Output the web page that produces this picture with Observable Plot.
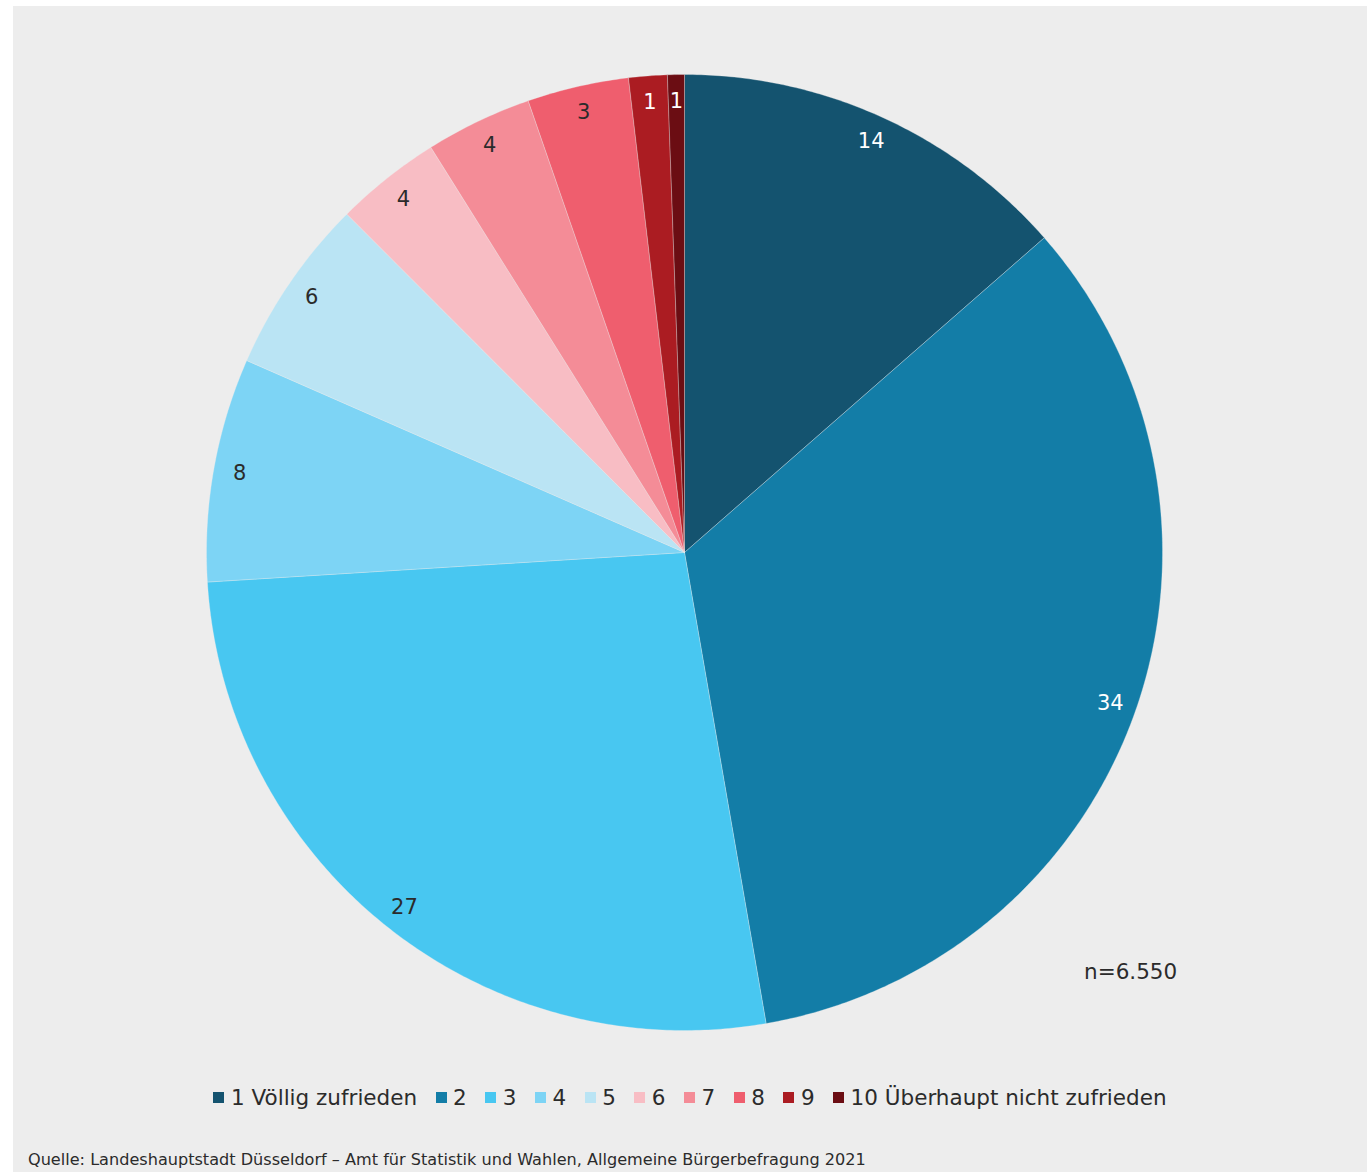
<!DOCTYPE html>
<html>
<head>
<meta charset="utf-8">
<script src="https://cdn.jsdelivr.net/npm/d3@7"></script>
<script src="https://cdn.jsdelivr.net/npm/@observablehq/plot@0.6"></script>
<style>
  html, body { margin: 0; padding: 0; background: #fff; }
  body { width: 1367px; height: 1172px; position: relative; overflow: hidden; font-family: "DejaVu Sans", Verdana, sans-serif; }
  #panel { position: absolute; left: 13px; top: 6px; width: 1354px; height: 1166px; background: #ededed; }
  #chart { position: absolute; left: 0; top: 0; }
  #n { position: absolute; left: 1071px; top: 953px; font-size: 21.5px; color: #2b2b2b; }
  #legend { position: absolute; left: 0; width: 1354px; top: 1079px; display: flex; justify-content: center; align-items: center; font-size: 21.5px; color: #2b2b2b; }
  .item { display: flex; align-items: center; margin-right: 18.5px; }
  .item:last-child { margin-right: 0; }
  .sw { width: 11px; height: 11px; margin-right: 6.5px; }
  #caption { position: absolute; left: 15px; top: 1144px; font-size: 16.1px; color: #2b2b2b; }
</style>
</head>
<body>
<div id="panel">
  <div id="chart"></div>
  <div id="n">n=6.550</div>
  <div id="legend"></div>
  <div id="caption">Quelle: Landeshauptstadt Düsseldorf – Amt für Statistik und Wahlen, Allgemeine Bürgerbefragung 2021</div>
</div>
<script>
const categories = ["1 Völlig zufrieden", "2", "3", "4", "5", "6", "7", "8", "9", "10 Überhaupt nicht zufrieden"];
const shares = [13.56, 33.7, 26.74, 7.56, 5.94, 3.58, 3.6, 3.43, 1.3, 0.57];
const labels = ["14", "34", "27", "8", "6", "4", "4", "3", "1", "1"];
const colors = ["#14536f", "#137da7", "#48c7f1", "#7dd4f5", "#bae4f4", "#f8bdc4", "#f48c97", "#ef5e6e", "#ab1c22", "#6b0d13"];
const labelColors = ["#ffffff", "#ffffff", "#2b2b2b", "#2b2b2b", "#2b2b2b", "#2b2b2b", "#2b2b2b", "#2b2b2b", "#ffffff", "#ffffff"];

const data = categories.map((c, i) => ({category: c, value: shares[i], label: labels[i], lc: labelColors[i]}));
const arcs = d3.pie().sort(null).value(d => d.value)(data);

// polygon points for each slice (angle measured clockwise from north)
const pts = [];
arcs.forEach(a => {
  const cat = a.data.category;
  pts.push({category: cat, x: 0, y: 0});
  const n = Math.max(2, Math.ceil((a.endAngle - a.startAngle) / (Math.PI / 360)));
  for (let k = 0; k <= n; k++) {
    const t = a.startAngle + (a.endAngle - a.startAngle) * k / n;
    pts.push({category: cat, x: Math.sin(t), y: Math.cos(t)});
  }
  pts.push({category: cat, x: 0, y: 0});
});

const labelR = 0.945;
const labelPts = arcs.map(a => {
  const m = (a.startAngle + a.endAngle) / 2;
  return {x: labelR * Math.sin(m), y: labelR * Math.cos(m), label: a.data.label, lc: a.data.lc};
});

const cx = 671, cy = 546, R = 478;
const chart = Plot.plot({
  width: 1354,
  height: 1060,
  margin: 0,
  style: {background: "transparent", fontFamily: "DejaVu Sans, Verdana, sans-serif"},
  x: {domain: [-1, 1], range: [cx - R, cx + R], axis: null},
  y: {domain: [-1, 1], range: [cy + R, cy - R], axis: null},
  color: {domain: categories, range: colors},
  marks: [
    Plot.line(pts, {x: "x", y: "y", z: "category", fill: "category", stroke: "#ededed", strokeWidth: 0.5, strokeOpacity: 0.6, curve: "linear"}),
    Plot.text(labelPts, {x: "x", y: "y", text: "label", fill: "lc", fontSize: 21})
  ]
});
document.getElementById("chart").appendChild(chart);

const legend = document.getElementById("legend");
categories.forEach((c, i) => {
  const it = document.createElement("div");
  it.className = "item";
  const sw = document.createElement("div");
  sw.className = "sw";
  sw.style.background = colors[i];
  const tx = document.createElement("span");
  tx.textContent = c;
  it.appendChild(sw); it.appendChild(tx);
  legend.appendChild(it);
});
</script>
</body>
</html>
